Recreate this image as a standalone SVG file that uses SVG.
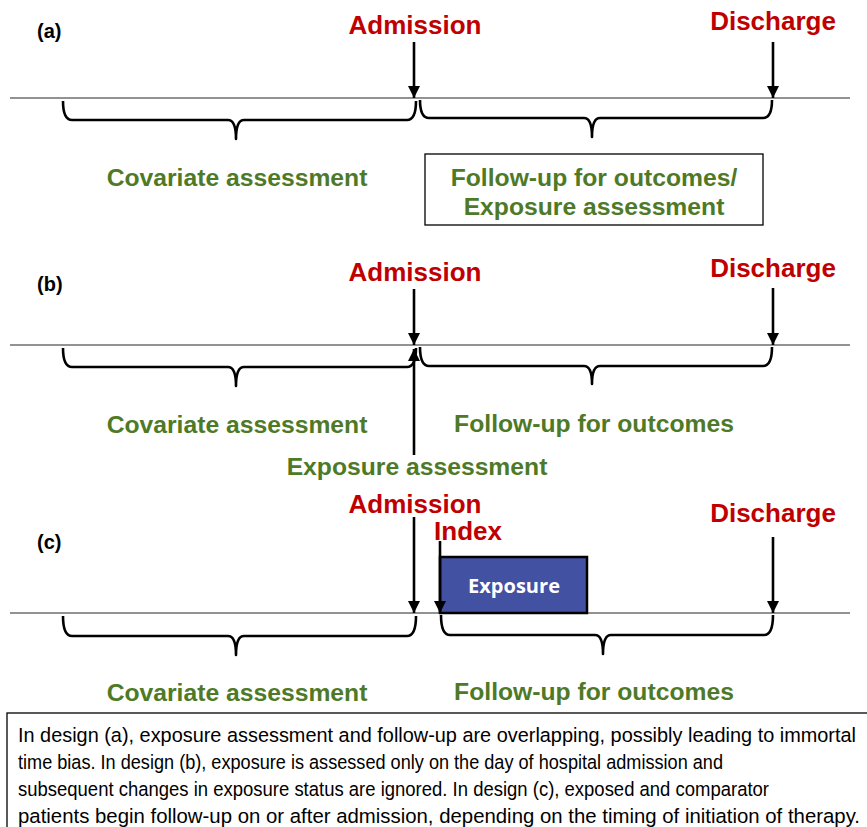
<svg xmlns="http://www.w3.org/2000/svg" width="867" height="827" viewBox="0 0 867 827">
<style>
.red{font-family:"Liberation Sans",Arial,sans-serif;font-weight:bold;font-size:26px;fill:#C00000;text-anchor:middle}
.grn{font-family:"Liberation Sans",Arial,sans-serif;font-weight:bold;font-size:24.7px;fill:#4E7A27;text-anchor:middle}
.lab{font-family:"Liberation Sans",Arial,sans-serif;font-weight:bold;font-size:20px;fill:#000}
.tl{stroke:#6e6e6e;stroke-width:1.6;fill:none}
.br{stroke:#000;stroke-width:2.6;fill:none;stroke-linejoin:round}
.ar{stroke:#000;stroke-width:2.6;fill:none}
.note{font-family:"Liberation Sans Narrow","Liberation Sans",Arial,sans-serif;font-size:20.5px;fill:#000}
</style>
<defs>
<marker id="ah" markerUnits="userSpaceOnUse" markerWidth="12" markerHeight="12" refX="12" refY="6" orient="auto">
<path d="M0,0 L12,6 L0,12 z" fill="#000"/>
</marker>
</defs>
<rect width="867" height="827" fill="#fff"/>

<!-- timelines -->
<g id="timelines">
<line class="tl" x1="10" y1="98" x2="850" y2="98"/>
<line class="tl" x1="10" y1="345" x2="850" y2="345"/>
<line class="tl" x1="10" y1="613" x2="850" y2="613"/>
</g>

<!-- panel labels -->
<g id="label-a"><text class="lab" x="37" y="38">(a)</text></g>
<g id="label-b"><text class="lab" x="37" y="291">(b)</text></g>
<g id="label-c"><text class="lab" x="37" y="549">(c)</text></g>

<!-- event labels -->
<g id="admission-a"><text class="red" x="415" y="34">Admission</text></g>
<g id="discharge-a"><text class="red" x="773" y="30">Discharge</text></g>
<g id="admission-b"><text class="red" x="415" y="281">Admission</text></g>
<g id="discharge-b"><text class="red" x="773" y="277">Discharge</text></g>
<g id="admission-c"><text class="red" x="415" y="513">Admission</text></g>
<g id="index-c"><text class="red" x="468" y="540">Index</text></g>
<g id="discharge-c"><text class="red" x="773" y="522">Discharge</text></g>

<!-- braces -->
<g id="braces">
<path class="br" d="M63,101 Q63,120 72,120 L228,120 Q236,120 236,139 Q236,120 244,120 L407,120 Q416,120 416,101"/>
<path class="br" d="M420,100 Q420,118 429,118 L584,118 Q592,118 592,137 Q592,118 600,118 L763,118 Q772,118 772,100"/>
<path class="br" d="M63,348 Q63,367 72,367 L228,367 Q236,367 236,386 Q236,367 244,367 L407,367 Q416,367 416,348"/>
<path class="br" d="M420,347 Q420,366 429,366 L584,366 Q592,366 592,384 Q592,366 600,366 L763,366 Q772,366 772,347"/>
<path class="br" d="M63,616 Q63,636 72,636 L228,636 Q236,636 236,655 Q236,636 244,636 L407,636 Q416,636 416,616"/>
<path class="br" d="M441,615 Q441,635 450,635 L595,635 Q603,635 603,654 Q603,635 611,635 L764,635 Q773,635 773,615"/>
</g>

<!-- period labels -->
<g id="covariate-a"><text class="grn" x="237" y="186">Covariate assessment</text></g>
<g id="followup-a">
<rect x="425" y="154" width="338" height="71" fill="#fff" stroke="#000" stroke-width="1.3"/>
<text class="grn" x="594" y="186">Follow-up for outcomes/</text>
<text class="grn" x="594" y="215">Exposure assessment</text>
</g>
<g id="covariate-b"><text class="grn" x="237" y="433">Covariate assessment</text></g>
<g id="followup-b"><text class="grn" x="594" y="432">Follow-up for outcomes</text></g>
<g id="exposure-b"><text class="grn" x="417" y="475">Exposure assessment</text></g>
<g id="covariate-c"><text class="grn" x="237" y="701">Covariate assessment</text></g>
<g id="followup-c"><text class="grn" x="594" y="700">Follow-up for outcomes</text></g>

<g id="exposure-c">
<rect x="440" y="557" width="147" height="56" fill="#4351A3" stroke="#000" stroke-width="2.5"/>
<text x="514" y="593" font-family="'Open Sans','Liberation Sans',sans-serif" font-weight="bold" font-size="20" fill="#fff" text-anchor="middle" textLength="92" lengthAdjust="spacingAndGlyphs">Exposure</text>
</g>

<!-- connectors -->
<g id="connectors">
<line class="ar" x1="414" y1="42" x2="414" y2="98" marker-end="url(#ah)"/>
<line class="ar" x1="773" y1="42" x2="773" y2="98" marker-end="url(#ah)"/>
<line class="ar" x1="414" y1="289" x2="414" y2="345" marker-end="url(#ah)"/>
<line class="ar" x1="773" y1="288" x2="773" y2="345" marker-end="url(#ah)"/>
<line class="ar" x1="414" y1="455" x2="414" y2="349" marker-end="url(#ah)"/>
<line class="ar" x1="414" y1="517" x2="414" y2="613" marker-end="url(#ah)"/>
<line class="ar" x1="440" y1="541" x2="440" y2="613" marker-end="url(#ah)"/>
<line class="ar" x1="773" y1="537" x2="773" y2="613" marker-end="url(#ah)"/>
</g>

<!-- caption -->
<g id="caption">
<rect x="7" y="713" width="870" height="130" fill="#fff" stroke="#000" stroke-width="1.3"/>
<text class="note" x="18" y="742" textLength="838" lengthAdjust="spacingAndGlyphs">In design (a), exposure assessment and follow-up are overlapping, possibly leading to immortal</text>
<text class="note" x="18" y="769" textLength="705" lengthAdjust="spacingAndGlyphs">time bias. In design (b), exposure is assessed only on the day of hospital admission and</text>
<text class="note" x="18" y="796" textLength="751" lengthAdjust="spacingAndGlyphs">subsequent changes in exposure status are ignored. In design (c), exposed and comparator</text>
<text class="note" x="18" y="823" textLength="842" lengthAdjust="spacingAndGlyphs">patients begin follow-up on or after admission, depending on the timing of initiation of therapy.</text>
</g>
</svg>
